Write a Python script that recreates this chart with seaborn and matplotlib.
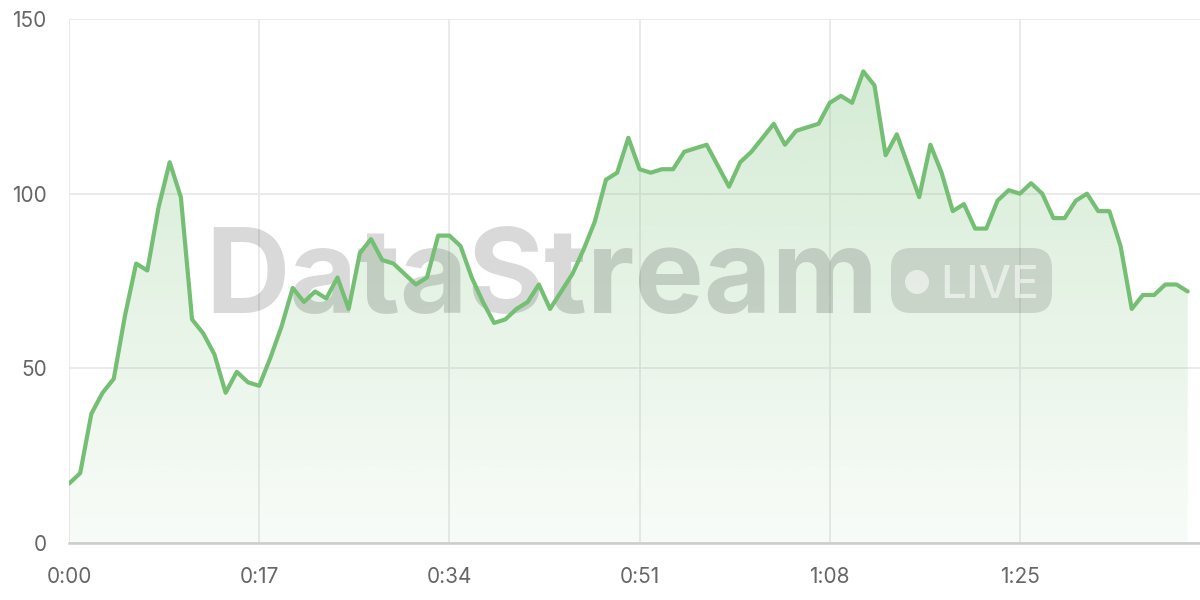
import matplotlib
matplotlib.use("Agg")
import matplotlib.pyplot as plt
from matplotlib.patches import FancyBboxPatch, Circle
from matplotlib.transforms import IdentityTransform
import seaborn as sns
import pandas as pd
import numpy as np

# one reading per second, 0..100
values = [17, 20, 37, 43, 47, 65, 80, 78, 96, 109,
          99, 64, 60, 54, 43, 49, 46, 45, 53, 62,
          73, 69, 72, 70, 76, 67, 83, 87, 81, 80,
          77, 74, 76, 88, 88, 85, 76, 69, 63, 64,
          67, 69, 74, 67, 72, 77, 84, 92, 104, 106,
          116, 107, 106, 107, 107, 112, 113, 114, 108, 102,
          109, 112, 116, 120, 114, 118, 119, 120, 126, 128,
          126, 135, 131, 111, 117, 108, 99, 114, 106, 95,
          97, 90, 90, 98, 101, 100, 103, 100, 93, 93,
          98, 100, 95, 95, 85, 67, 71, 71, 74, 74,
          72]
seconds = list(range(len(values)))
x_ticks = [0, 17, 34, 51, 68, 85]
x_labels = ["0:00", "0:17", "0:34", "0:51", "1:08", "1:25"]
y_ticks = [0, 50, 100, 150]

df = pd.DataFrame({"t": seconds, "v": values})

line_col = "#74bf74"
grid_col = "#e8e8e8"
text_col = "#666666"

sns.set_style("white")
plt.rcParams["font.family"] = ["Inter", "DejaVu Sans"]

fig = plt.figure(figsize=(12, 6), dpi=100)
ax = fig.add_axes([69 / 1200, 57 / 600, 1131 / 1200, 524 / 600])

# gradient area under the line
poly = ax.fill_between(df["t"], df["v"], 0, color="none", lw=0)
grad = np.linspace(0.05, 0.33, 256).reshape(-1, 1)
rgba = np.zeros((256, 1, 4))
rgba[..., :3] = matplotlib.colors.to_rgb(line_col)
rgba[..., 3] = grad
img = ax.imshow(rgba, extent=[0, seconds[-1], 0, 150], origin="lower",
                aspect="auto", zorder=1)
img.set_clip_path(poly.get_paths()[0], transform=ax.transData)

sns.lineplot(data=df, x="t", y="v", ax=ax, color=line_col, lw=3, zorder=4)

ax.set_xlim(0, 101.1)
ax.set_ylim(0, 150)
ax.set_xticks(x_ticks)
ax.set_xticklabels(x_labels)
ax.set_yticks(y_ticks)
ax.set_xlabel("")
ax.set_ylabel("")
ax.grid(True, color=grid_col, lw=1.2, zorder=0)
ax.set_axisbelow(True)
for s in ["top", "right", "left"]:
    ax.spines[s].set_visible(False)
ax.spines["bottom"].set_color("#cccccc")
ax.spines["bottom"].set_linewidth(1.8)
ax.spines["bottom"].set_zorder(3)
ax.tick_params(axis="x", length=9, width=1.2, color=grid_col, pad=8,
               labelsize=15, labelcolor=text_col)
ax.tick_params(axis="y", length=11, width=1.2, color=grid_col, pad=5,
               labelsize=15, labelcolor=text_col)

# watermark, kept under the line
ax.text(205 / 1200, 1 - 313 / 600, "DataStream", fontsize=84,
        fontweight="bold", color=(0, 0, 0, 0.15), ha="left", va="baseline",
        transform=fig.transFigure, zorder=3)
badge = FancyBboxPatch((891, 287), 161, 65,
                       boxstyle="round,pad=0,rounding_size=20",
                       transform=IdentityTransform(), fc=(0, 0, 0, 0.12),
                       ec="none", zorder=3, clip_on=False)
ax.add_artist(badge)
dot = Circle((917, 318), 12, transform=IdentityTransform(),
             fc=(1, 1, 1, 0.55), ec="none", zorder=3, clip_on=False)
ax.add_artist(dot)
ax.text(940 / 1200, 1 - 298 / 600, "LIVE", fontsize=33, fontweight="medium",
        color=(1, 1, 1, 0.55), ha="left", va="baseline",
        transform=fig.transFigure, zorder=3)

fig.savefig("out.png", dpi=100)
